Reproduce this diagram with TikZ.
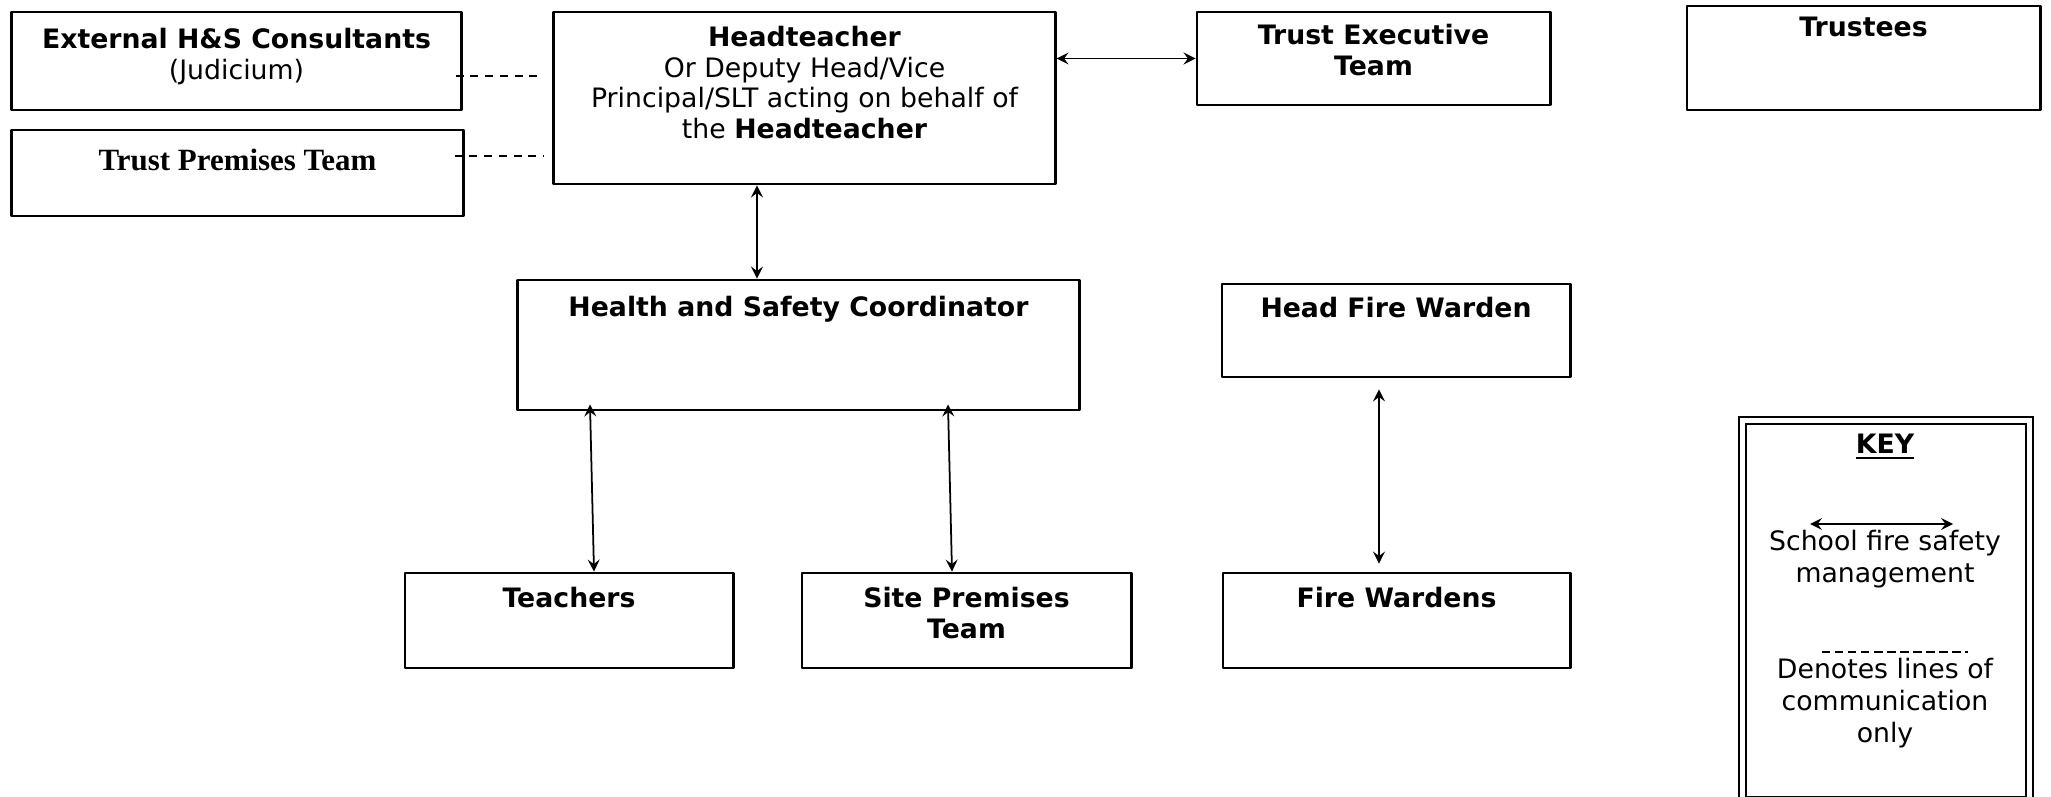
\documentclass[tikz,border=0pt]{standalone}
\usepackage{fontspec}
\setmainfont{DejaVu Sans}
\newfontfamily\timesbf{Liberation Serif}
\usetikzlibrary{positioning,calc}
\begin{document}
\begin{tikzpicture}[line cap=round,line join=round,>=stealth,x=0.01cm,y=0.01cm,
		box/.style={draw,line width=0.8pt,inner sep=0pt},
		txt/.style={align=center,inner sep=0pt,font=\fontsize{7.6}{8.7}\selectfont},
		mgmt/.style={<->,line width=0.5pt},
		comm/.style={line cap=butt,line width=0.6pt,dash pattern=on 2.3pt off 1.9pt},
		keydash/.style={line cap=butt,line width=0.45pt,dash pattern=on 2.4pt off 1.3pt}]
	\useasboundingbox (0,-797) rectangle (2051,0);
	% boxes
	\node[box,minimum width=4.49cm,minimum height=0.98cm] (ext) at (236.5,-61) {};
	\node[box,minimum width=4.51cm,minimum height=0.86cm] (tpt) at (237.5,-173) {};
	\node[box,minimum width=5.01cm,minimum height=1.72cm] (head) at (804.5,-98) {};
	\node[box,minimum width=3.53cm,minimum height=0.93cm] (exec) at (1373.5,-58.5) {};
	\node[box,minimum width=3.53cm,minimum height=1.04cm] (trust) at (1863.5,-58) {};
	\node[box,minimum width=5.61cm,minimum height=1.30cm] (hsc) at (798.5,-345) {};
	\node[box,minimum width=3.48cm,minimum height=0.93cm] (hfw) at (1396,-330.5) {};
	\node[box,minimum width=3.28cm,minimum height=0.95cm] (teach) at (569,-620.5) {};
	\node[box,minimum width=3.29cm,minimum height=0.95cm] (site) at (966.5,-620.5) {};
	\node[box,minimum width=3.47cm,minimum height=0.95cm] (fw) at (1396.5,-620.5) {};
	\node[draw,line width=0.55pt,line join=miter,double,double distance=1.4pt,inner sep=0pt,
		minimum width=2.87cm,minimum height=3.79cm] (key) at (1886,-610.5) {};
	% texts
	\node[txt,below=0.17cm of ext.north] (extt) {\textbf{External H\&S Consultants}\\(Judicium)};
	\node[txt,below=0.20cm of tpt.north,font=\fontsize{8.8}{10}\timesbf\bfseries] (tptt) {Trust Premises Team};
	\node[txt,below=0.15cm of head.north] (headt) {\textbf{Headteacher}\\Or Deputy Head/Vice\\Principal/SLT acting on behalf of\\the \textbf{Headteacher}};
	\node[txt,below=0.13cm of exec.north] (exect) {\textbf{Trust Executive}\\\textbf{Team}};
	\node[txt,below=0.12cm of trust.north] (trustt) {\textbf{Trustees}};
	\node[txt,below=0.17cm of hsc.north] (hsct) {\textbf{Health and Safety Coordinator}};
	\node[txt,below=0.14cm of hfw.north] (hfwt) {\textbf{Head Fire Warden}};
	\node[txt,below=0.15cm of teach.north] (teacht) {\textbf{Teachers}};
	\node[txt,below=0.15cm of site.north] (sitet) {\textbf{Site Premises}\\\textbf{Team}};
	\node[txt,below=0.15cm of fw.north] (fwt) {\textbf{Fire Wardens}};
	% connectors
	\draw[comm] ($(ext.east)+(-7,-15)$) -- ($(ext.east -| head.west)+(-9,-15)$);
	\draw[comm] ($(tpt.east)+(-10,17)$) -- ($(tpt.east -| head.west)+(-9,17)$);
	\draw[mgmt] (exec.west -| head.east) -- (exec.west);
	\coordinate (h1) at ($(head.south)+(-47.5,0)$);
	\draw[mgmt] (h1) -- (h1 |- hsc.north);
	\draw[mgmt] ($(hsc.south)+(-208.5,7)$) -- ($(teach.north)+(25,0)$);
	\draw[mgmt] ($(hsc.south)+(149.5,7)$) -- ($(site.north)+(-14.5,0)$);
	\draw[mgmt] ($(hfw.south)+(-17,-11)$) -- ($(fw.north)+(-17.5,8)$);
	% key
	\node[txt] (keyt) at (1885,-447) {\textbf{\underline{KEY}}};
	\coordinate (k1) at (1810,-524);
	\coordinate (k2) at (1953,-524);
	\draw[mgmt] (k1) -- (k2);
	\node[txt,font=\fontsize{7.6}{9}\selectfont] (ksafe) at (1885,-559) {School fire safety\\management};
	\coordinate (k3) at (1822,-652);
	\coordinate (k4) at (1968,-652);
	\draw[keydash] (k3) -- (k4);
	\node[txt,font=\fontsize{7.6}{9}\selectfont] (kcomm) at (1885,-703) {Denotes lines of\\communication\\only};
\end{tikzpicture}
\end{document}
